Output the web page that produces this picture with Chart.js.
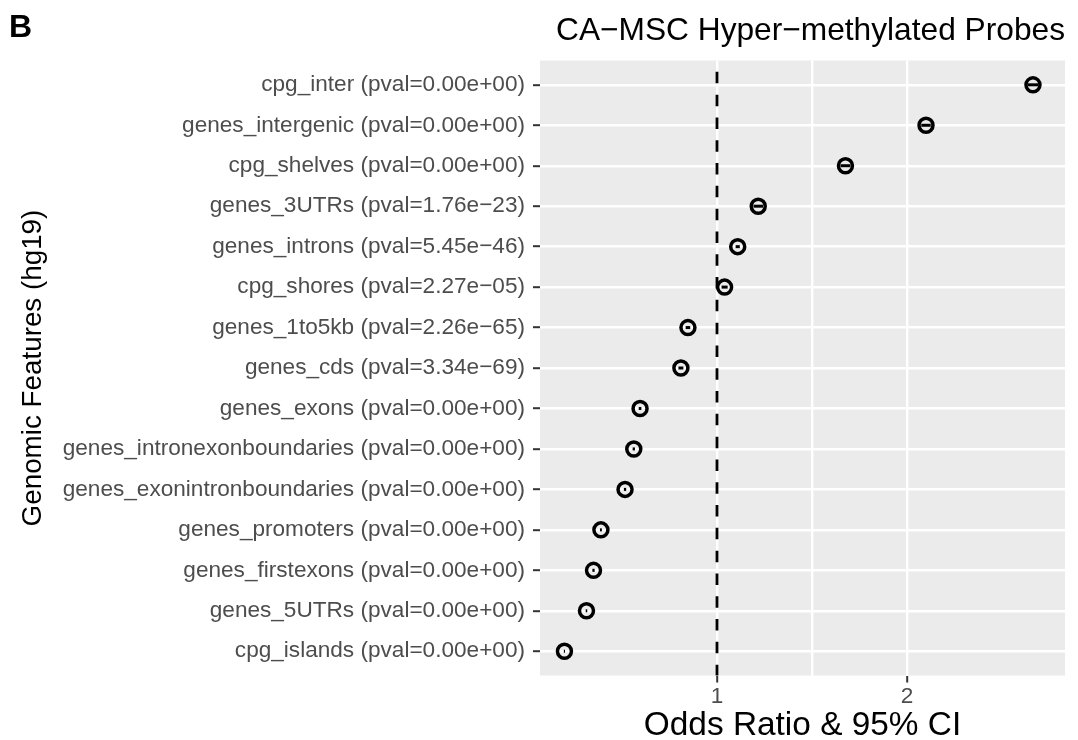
<!DOCTYPE html>
<html>
<head>
<meta charset="utf-8">
<script src="https://cdn.jsdelivr.net/npm/chart.js@4/dist/chart.umd.min.js"></script>
<style>
  body { margin: 0; background: #fff; }
  #wrap { width: 1078px; height: 740px; }
</style>
</head>
<body>
<div id="wrap"><canvas id="odds-chart"></canvas></div>
<script>
const features = [
  'cpg_inter', 'genes_intergenic', 'cpg_shelves', 'genes_3UTRs', 'genes_introns',
  'cpg_shores', 'genes_1to5kb', 'genes_cds', 'genes_exons', 'genes_intronexonboundaries',
  'genes_exonintronboundaries', 'genes_promoters', 'genes_firstexons', 'genes_5UTRs', 'cpg_islands'
]
const pvals = [
  '0.00e+00', '0.00e+00', '0.00e+00', '1.76e\u221223', '5.45e\u221246',
  '2.27e\u221205', '2.26e\u221265', '3.34e\u221269', '0.00e+00', '0.00e+00',
  '0.00e+00', '0.00e+00', '0.00e+00', '0.00e+00', '0.00e+00'
]
const oddsRatio = [2.663, 2.100, 1.676, 1.217, 1.109, 1.040, 0.847, 0.810, 0.595, 0.562, 0.516, 0.389, 0.350, 0.313, 0.197]
const ciLower = [2.635, 2.075, 1.650, 1.192, 1.098, 1.024, 0.835, 0.797, 0.588, 0.556, 0.510, 0.384, 0.344, 0.309, 0.194]
const ciUpper = [2.690, 2.125, 1.702, 1.242, 1.120, 1.056, 0.859, 0.823, 0.602, 0.568, 0.522, 0.394, 0.356, 0.317, 0.200]
const xTicks = [1, 1.5, 2]
const xTickLabels = { 1: '1', 2: '2' }
const refLine = 1

const labels = features.map((f, i) => `${f} (pval=${pvals[i]})`)
const FONT = "'Liberation Sans', Arial, Helvetica, sans-serif"

const panel = {
  id: 'panel',
  beforeDraw(chart) {
    const { ctx, chartArea: a } = chart
    ctx.save()
    ctx.fillStyle = '#EBEBEB'
    ctx.fillRect(a.left, a.top, a.right - a.left, a.bottom - a.top)
    ctx.restore()
  },
  beforeDatasetsDraw(chart) {
    // dashed reference line at OR = 1
    const { ctx, chartArea: a, scales } = chart
    const x = scales.x.getPixelForValue(refLine)
    ctx.save()
    ctx.strokeStyle = '#000'
    ctx.lineWidth = 2.8
    ctx.setLineDash([11.5, 11.3])
    ctx.lineDashOffset = 11.5
    ctx.beginPath()
    ctx.moveTo(x, a.top)
    ctx.lineTo(x, a.bottom)
    ctx.stroke()
    ctx.restore()
  },
  afterDatasetsDraw(chart) {
    // 95% CI bars
    const { ctx, scales } = chart
    ctx.save()
    ctx.strokeStyle = '#000'
    ctx.lineWidth = 3
    oddsRatio.forEach((_, i) => {
      const y = scales.y.getPixelForValue(i)
      ctx.beginPath()
      ctx.moveTo(scales.x.getPixelForValue(ciLower[i]), y)
      ctx.lineTo(scales.x.getPixelForValue(ciUpper[i]), y)
      ctx.stroke()
    })
    ctx.restore()
  },
  afterDraw(chart) {
    const { ctx } = chart
    ctx.save()
    ctx.fillStyle = '#000'
    ctx.font = `bold 32px ${FONT}`
    ctx.textAlign = 'left'
    ctx.textBaseline = 'alphabetic'
    ctx.fillText('B', 9, 37)
    ctx.restore()
  }
}

new Chart(document.querySelector('#odds-chart'), {
  type: 'scatter',
  data: {
    datasets: [{
      data: oddsRatio.map((v, i) => ({ x: v, y: i })),
      pointRadius: 7,
      pointHoverRadius: 7,
      borderWidth: 3.5,
      borderColor: '#000',
      backgroundColor: 'rgba(0,0,0,0)'
    }]
  },
  options: {
    responsive: true,
    maintainAspectRatio: false,
    animation: false,
    events: [],
    layout: { padding: { left: 0, right: 13, top: 0, bottom: 0 } },
    plugins: {
      legend: { display: false },
      tooltip: { enabled: false },
      title: {
        display: true,
        text: 'CA\u2212MSC Hyper\u2212methylated Probes',
        align: 'end',
        color: '#000',
        font: { family: FONT, size: 31.7, weight: 'normal' },
        padding: { top: 12.5, bottom: 10 }
      }
    },
    scales: {
      x: {
        type: 'linear',
        min: 0.0684,
        max: 2.8316,
        afterBuildTicks: scale => { scale.ticks = xTicks.map(v => ({ value: v })) },
        ticks: {
          autoSkip: false,
          maxRotation: 0,
          padding: 3.2,
          color: '#4D4D4D',
          font: { family: FONT, size: 22.6, lineHeight: 1 },
          callback: v => xTickLabels[v] || ''
        },
        grid: {
          color: '#fff',
          lineWidth: 2.4,
          tickLength: 7,
          tickColor: c => (c.tick && xTickLabels[c.tick.value]) ? '#333' : 'rgba(0,0,0,0)',
          tickWidth: 2
        },
        border: { display: false },
        title: {
          display: true,
          text: 'Odds Ratio & 95% CI',
          color: '#000',
          font: { family: FONT, size: 33.4, lineHeight: 0.85 },
          padding: { top: 0, bottom: 0.1 }
        }
      },
      y: {
        type: 'linear',
        reverse: true,
        min: -0.6,
        max: features.length - 0.4,
        afterBuildTicks: scale => { scale.ticks = features.map((_, i) => ({ value: i })) },
        afterFit: scale => { scale.width = 540 },
        ticks: {
          autoSkip: false,
          padding: 8,
          color: '#4D4D4D',
          font: { family: FONT, size: 22.6 },
          callback: v => labels[v]
        },
        grid: {
          color: '#fff',
          lineWidth: 2.4,
          tickLength: 7,
          tickColor: '#333',
          tickWidth: 2
        },
        border: { display: false },
        title: {
          display: true,
          text: 'Genomic Features (hg19)',
          color: '#000',
          font: { family: FONT, size: 27.8 },
          padding: { top: 16.8, bottom: 0 }
        }
      }
    }
  },
  plugins: [panel]
})
</script>
</body>
</html>
